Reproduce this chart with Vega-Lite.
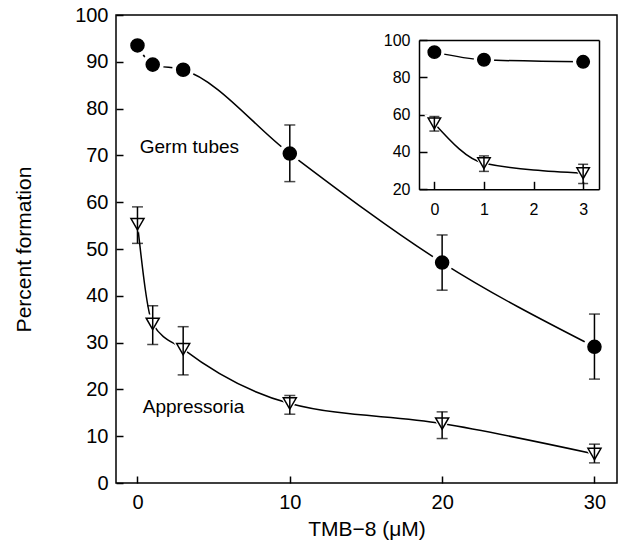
{
  "$schema": "https://vega.github.io/schema/vega-lite/v6.json",
  "width": 501,
  "height": 468,
  "autosize": {"type": "none"},
  "padding": {"left": 116, "top": 15, "right": 8, "bottom": 69},
  "background": "white",
  "config": {
    "view": {"stroke": "black", "strokeWidth": 1.5},
    "font": "Liberation Sans",
    "axis": {
      "grid": false,
      "labelColor": "black",
      "tickColor": "black",
      "domainColor": "black",
      "titleColor": "black",
      "titleFontWeight": "normal",
      "tickWidth": 1.5,
      "domainWidth": 1.5,
      "labelFont": "Liberation Sans",
      "titleFont": "Liberation Sans"
    }
  },
  "datasets": {
    "main": [
      {"series": "Germ tubes", "tmb": 0, "pct": 93.5, "lo": null, "hi": null},
      {"series": "Germ tubes", "tmb": 1, "pct": 89.4, "lo": null, "hi": null},
      {"series": "Germ tubes", "tmb": 3, "pct": 88.3, "lo": null, "hi": null},
      {"series": "Germ tubes", "tmb": 10, "pct": 70.4, "lo": 64.4, "hi": 76.5},
      {"series": "Germ tubes", "tmb": 20, "pct": 47.1, "lo": 41.2, "hi": 53.0},
      {"series": "Germ tubes", "tmb": 30, "pct": 29.1, "lo": 22.2, "hi": 36.1},
      {"series": "Appressoria", "tmb": 0, "pct": 55.3, "lo": 51.2, "hi": 59.0},
      {"series": "Appressoria", "tmb": 1, "pct": 34.0, "lo": 29.6, "hi": 37.9},
      {"series": "Appressoria", "tmb": 3, "pct": 28.6, "lo": 23.1, "hi": 33.4},
      {"series": "Appressoria", "tmb": 10, "pct": 17.0, "lo": 14.7, "hi": 18.7},
      {"series": "Appressoria", "tmb": 20, "pct": 12.7, "lo": 9.5, "hi": 15.2},
      {"series": "Appressoria", "tmb": 30, "pct": 6.2, "lo": 4.3, "hi": 8.3}
    ],
    "labels": [
      {"tmb": 0.15, "pct": 71.8, "label": "Germ tubes"},
      {"tmb": 0.35, "pct": 16.2, "label": "Appressoria"}
    ]
  },
  "layer": [
    {
      "data": {"name": "main"},
      "encoding": {
        "x": {
          "field": "tmb", "type": "quantitative",
          "scale": {"domain": [-1.41, 31.48], "nice": false, "zero": false},
          "axis": {
            "orient": "bottom", "values": [0, 10, 20, 30], "domain": false,
            "tickSize": -7, "labelPadding": 16, "labelFontSize": 20,
            "title": "TMB−8  (μM)", "titleFontSize": 21, "titlePadding": 6
          }
        },
        "y": {
          "field": "pct", "type": "quantitative",
          "scale": {"domain": [0, 100], "nice": false, "zero": false},
          "axis": {
            "orient": "left", "values": [0, 10, 20, 30, 40, 50, 60, 70, 80, 90, 100], "domain": false,
            "tickSize": -7, "labelPadding": 15, "labelFontSize": 20,
            "title": "Percent  formation", "titleFontSize": 21, "titlePadding": 40
          }
        }
      },
      "layer": [
        {
          "mark": {"type": "line", "interpolate": "monotone", "color": "black", "strokeWidth": 1.5},
          "encoding": {"detail": {"field": "series"}}
        },
        {
          "mark": {"type": "point", "filled": true, "color": "white", "opacity": 1, "size": 480},
          "encoding": {
            "shape": {"field": "series", "type": "nominal", "scale": {"domain": ["Germ tubes", "Appressoria"], "range": ["circle", "triangle-down"]}, "legend": null}
          }
        },
        {
          "mark": {"type": "point", "opacity": 1, "size": 170, "strokeWidth": 1.5, "stroke": "black"},
          "encoding": {
            "shape": {"field": "series", "type": "nominal", "scale": {"domain": ["Germ tubes", "Appressoria"], "range": ["circle", "triangle-down"]}, "legend": null},
            "fill": {"field": "series", "type": "nominal", "scale": {"domain": ["Germ tubes", "Appressoria"], "range": ["black", "white"]}, "legend": null}
          }
        },
        {
          "transform": [{"filter": "isValid(datum.lo)"}],
          "mark": {"type": "errorbar", "ticks": {"size": 11, "thickness": 1.5, "color": "black"}, "rule": {"strokeWidth": 1.5, "color": "black"}},
          "encoding": {
            "y": {"field": "lo", "type": "quantitative", "scale": {"domain": [0, 100], "nice": false, "zero": false}},
            "y2": {"field": "hi"}
          }
        },
        {
          "data": {"name": "labels"},
          "mark": {"type": "text", "align": "left", "baseline": "middle", "fontSize": 19, "font": "Liberation Sans", "color": "black"},
          "encoding": {"text": {"field": "label"}}
        }
      ]
    },
    {
      "data": {"name": "main"},
      "transform": [{"filter": "datum.tmb <= 3"}],
      "layer": [
        {
          "mark": {"type": "line", "interpolate": "monotone", "color": "black", "strokeWidth": 1.5},
          "encoding": {
            "x": {
              "field": "tmb", "type": "quantitative",
              "scale": {"domain": [-0.31, 3.32], "range": [303, 483], "nice": false, "zero": false},
              "axis": {
                "orient": "bottom", "offset": -293.7, "values": [0, 1, 2, 3], "domain": true,
                "tickSize": -8, "labelPadding": 20, "labelFontSize": 16, "title": null
              }
            },
            "y": {
              "field": "pct", "type": "quantitative",
              "scale": {"domain": [20, 100], "range": [174.3, 25], "nice": false, "zero": false},
              "axis": {
                "orient": "left", "offset": -303, "values": [20, 40, 60, 80, 100], "domain": true,
                "tickSize": -8, "labelPadding": 17, "labelFontSize": 16, "title": null
              }
            },
            "detail": {"field": "series"}
          }
        },
        {
          "mark": {"type": "point", "filled": true, "color": "white", "opacity": 1, "size": 420},
          "encoding": {
            "x": {"field": "tmb", "type": "quantitative", "axis": null},
            "y": {"field": "pct", "type": "quantitative", "axis": null},
            "shape": {"field": "series", "type": "nominal", "scale": {"domain": ["Germ tubes", "Appressoria"], "range": ["circle", "triangle-down"]}, "legend": null}
          }
        },
        {
          "mark": {"type": "point", "opacity": 1, "size": 155, "strokeWidth": 1.5, "stroke": "black"},
          "encoding": {
            "x": {"field": "tmb", "type": "quantitative", "axis": null},
            "y": {"field": "pct", "type": "quantitative", "axis": null},
            "shape": {"field": "series", "type": "nominal", "scale": {"domain": ["Germ tubes", "Appressoria"], "range": ["circle", "triangle-down"]}, "legend": null},
            "fill": {"field": "series", "type": "nominal", "scale": {"domain": ["Germ tubes", "Appressoria"], "range": ["black", "white"]}, "legend": null}
          }
        },
        {
          "transform": [{"filter": "isValid(datum.lo)"}],
          "mark": {"type": "errorbar", "ticks": {"size": 10, "thickness": 1.5, "color": "black"}, "rule": {"strokeWidth": 1.5, "color": "black"}},
          "encoding": {
            "x": {
              "field": "tmb", "type": "quantitative",
              "axis": {"orient": "top", "offset": -25, "labels": false, "ticks": false, "domain": true, "title": null}
            },
            "y": {
              "field": "lo", "type": "quantitative",
              "axis": {"orient": "right", "offset": -18, "labels": false, "ticks": false, "domain": true, "title": null}
            },
            "y2": {"field": "hi"}
          }
        }
      ],
      "resolve": {"axis": {"x": "independent", "y": "independent"}}
    }
  ],
  "resolve": {
    "scale": {"x": "independent", "y": "independent", "shape": "independent", "fill": "independent"},
    "axis": {"x": "independent", "y": "independent"}
  }
}
